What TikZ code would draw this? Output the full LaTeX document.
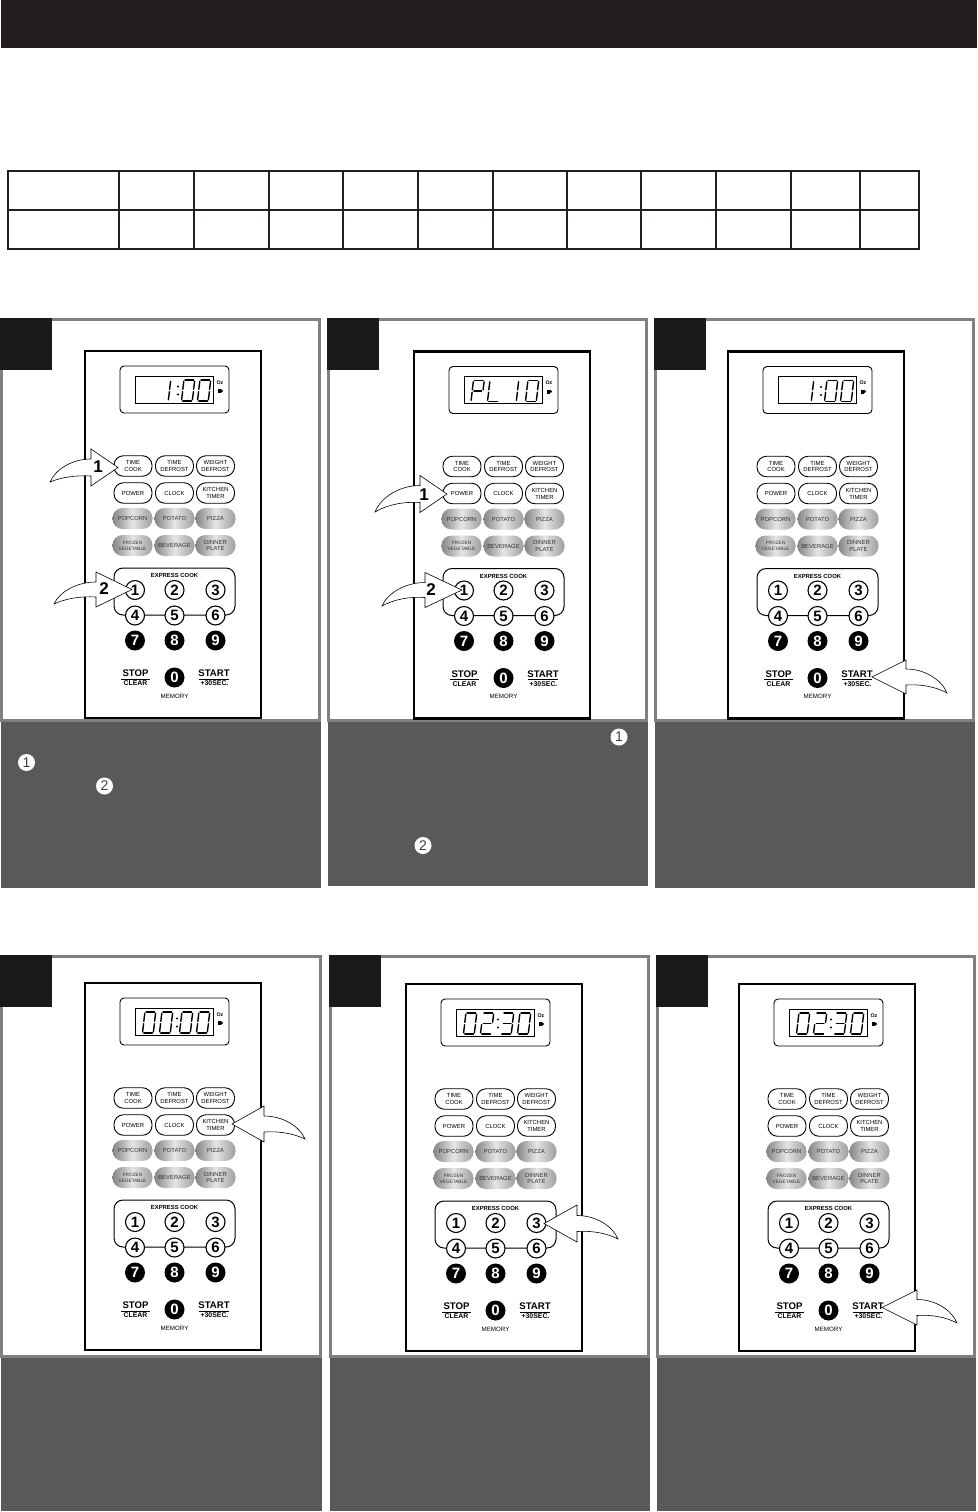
\documentclass[tikz,border=0pt]{standalone}
\usepackage{fontspec}
\setmainfont{Liberation Sans}
\definecolor{barblack}{HTML}{231F20}
\definecolor{sqblack}{HTML}{1A1A1A}
\definecolor{frameg}{HTML}{808080}
\definecolor{textbox}{HTML}{58595B}
\tikzset{
  btn/.style={draw=black,line width=0.9pt,fill=white,rounded corners=9.5pt,minimum width=38pt,minimum height=20.5pt,inner sep=0pt,align=center,font=\fontsize{5.9}{6.9}\selectfont},
  gbtn/.style={rounded corners=10pt,minimum width=40pt,minimum height=21pt,inner sep=0pt,align=center,font=\fontsize{5.9}{6.9}\selectfont,left color=black!48,right color=black!38,middle color=black!10,text=black!80},
  numw/.style={circle,draw=black,line width=1.1pt,fill=white,minimum size=19pt,inner sep=0pt,font=\fontsize{15}{15}\bfseries\selectfont},
  numb/.style={circle,fill=black,minimum size=20pt,inner sep=0pt,text=white,font=\fontsize{15}{15}\bfseries\selectfont},
  seg/.style={line width=1.4pt,line cap=round,black},
  lbl/.style={inner sep=0pt,font=\fontsize{6.2}{7}\selectfont},
  blk/.style={fill=white,draw=black,line width=0.6pt,line join=miter},
  txtnum/.style={circle,fill=white,minimum size=17pt,inner sep=0pt,text=textbox!70!black,font=\fontsize{14}{14}\selectfont},
  arrnum/.style={inner sep=0pt,font=\fontsize{17}{17}\bfseries\selectfont}
}
% seven-segment parts, digit centred on origin
\newcommand{\SgA}{\draw[seg] (-3.0,-10.5)--(5.6,-10.5);}
\newcommand{\SgB}{\draw[seg] (6.6,-9.3)--(5.6,-1.2);}
\newcommand{\SgC}{\draw[seg] (5.4,1.2)--(4.4,9.3);}
\newcommand{\SgD}{\draw[seg] (-5.2,10.5)--(3.4,10.5);}
\newcommand{\SgE}{\draw[seg] (-6.4,9.3)--(-5.4,1.2);}
\newcommand{\SgF}{\draw[seg] (-5.2,-1.2)--(-4.2,-9.3);}
\newcommand{\SgG}{\draw[seg] (-3.6,0)--(4.0,0);}
\newcommand{\DgZero}{\SgA\SgB\SgC\SgD\SgE\SgF}
\newcommand{\DgOne}{\SgB\SgC}
\newcommand{\DgTwo}{\SgA\SgB\SgG\SgE\SgD}
\newcommand{\DgThree}{\SgA\SgB\SgG\SgC\SgD}
\newcommand{\DgP}{\SgA\SgB\SgG\SgE\SgF}
\newcommand{\DgL}{\SgD\SgE\SgF}
\newcommand{\DG}[2]{\begin{scope}[shift={(#1,39.5)}]#2\end{scope}}
\newcommand{\CLN}[1]{\fill (#1,35.5) circle (1.2pt); \fill (#1,43.5) circle (1.2pt);}
% panel: frame, black tab, text box
\newcommand{\panelbox}[6]{% x1,y1,x2,y2,text bottom,text left
  \fill[textbox] (#6,#4+2) rectangle (#3,#5);
  \draw[frameg,line width=3pt] (#1+1.5,#4) -- (#1+1.5,#2+1.5) -- (#3-1.5,#2+1.5) -- (#3-1.5,#4);
  \draw[frameg,line width=3pt] (#1,#4+0.5) -- (#3,#4+0.5);
  \fill[sqblack] (#1,#2) rectangle (#1+52,#2+52);
}
% microwave control panel
\newcommand{\mw}[4]{%
 \begin{scope}[shift={(#2,#3)}]
  \draw[black,line width=2.2pt,fill=white] (0,0) rectangle (176,367);
  \draw[black,line width=0.9pt,rounded corners=4pt] (35,15) rectangle (144,62);
  \draw[black,line width=1pt] (50,25) rectangle (128,52);
  #4
  \node[inner sep=0pt,font=\fontsize{5.2}{5.2}\bfseries\selectfont] (#1-oz) at (135,31.5) {Oz};
  \fill (132.5,38) rectangle (136,42);
  \fill (136.5,40) circle (1.6pt);
  \node[btn] (#1-b1) at (48,115) {TIME\\COOK};
  \node[btn] (#1-b2) at (89.5,115) {TIME\\DEFROST};
  \node[btn] (#1-b3) at (130.5,115) {WEIGHT\\DEFROST};
  \node[btn] (#1-b4) at (48,142) {POWER};
  \node[btn] (#1-b5) at (89.5,142) {CLOCK};
  \node[btn] (#1-b6) at (130.5,142) {KITCHEN\\TIMER};
  \node[gbtn] (#1-g1) at (47.5,167.5) {POPCORN};
  \node[gbtn] (#1-g2) at (89.5,167.5) {POTATO};
  \node[gbtn] (#1-g3) at (130.5,167.5) {PIZZA};
  \node[gbtn,font=\fontsize{4.7}{6.2}\selectfont] (#1-g4) at (47.5,194.5) {FROZEN\\VEGETABLE};
  \node[gbtn] (#1-g5) at (89.5,194.5) {BEVERAGE};
  \node[gbtn] (#1-g6) at (130.5,194.5) {DINNER\\PLATE};
  \draw[black,line width=1pt,rounded corners=9pt] (29,217) rectangle (150,264);
  \node[lbl,font=\fontsize{5.9}{6}\bfseries\selectfont] (#1-ex) at (89.5,224.5) {EXPRESS COOK};
  \node[numw] (#1-n1) at (50,239) {1};
  \node[numw] (#1-n2) at (89.5,239) {2};
  \node[numw] (#1-n3) at (130.5,239) {3};
  \node[numw] (#1-n4) at (50,264.5) {4};
  \node[numw] (#1-n5) at (89.5,264.5) {5};
  \node[numw] (#1-n6) at (130.5,264.5) {6};
  \node[numb] (#1-n7) at (50,289.5) {7};
  \node[numb] (#1-n8) at (89.5,289.5) {8};
  \node[numb] (#1-n9) at (130.5,289.5) {9};
  \node[numb] (#1-n0) at (89.5,326.5) {0};
  \node[inner sep=0pt,font=\fontsize{9.6}{11}\bfseries\selectfont] (#1-stop) at (50.5,322.5) {STOP};
  \node[inner sep=0pt,font=\fontsize{6.9}{8}\bfseries\selectfont] (#1-clear) at (50.5,332.5) {CLEAR};
  \draw[black,line width=0.9pt] (36,328) -- (65,328);
  \node[inner sep=0pt,font=\fontsize{9.6}{11}\bfseries\selectfont] (#1-start) at (129,322.5) {START};
  \node[inner sep=0pt,font=\fontsize{6.9}{8}\bfseries\selectfont] (#1-sec) at (129.5,332.5) {+30SEC.};
  \draw[black,line width=0.9pt] (114,328) -- (144,328);
  \node[lbl] (#1-mem) at (89.5,345) {MEMORY};
 \end{scope}}
% block arrow with curved tail: tipx,tipy,basex,half head,shaft half,tailx,taily
\newcommand{\blockarrow}[7]{%
  \pgfmathsetmacro{\dxa}{#3-#6}
  \pgfmathsetmacro{\Tca}{#6+.13*\dxa}
  \pgfmathsetmacro{\Tcb}{#6+.54*\dxa}
  \pgfmathsetmacro{\Bca}{#6+.65*\dxa}
  \pgfmathsetmacro{\Bcb}{#6+.28*\dxa}
  \pgfmathsetmacro{\Sta}{#2-#5}
  \pgfmathsetmacro{\Sba}{#2+#5}
  \pgfmathsetmacro{\Tya}{#7+.55*(\Sta-#7)}
  \pgfmathsetmacro{\Byb}{\Sba+.2*(#7-\Sba)}
  \path[blk,draw] (#1,#2) -- (#3,#2-#4) -- (#3,\Sta) .. controls (\Tcb,\Sta) and (\Tca,\Tya) .. (#6,#7) .. controls (\Bcb,\Byb) and (\Bca,\Sba-1) .. (#3,\Sba) -- (#3,#2+#4) -- cycle;
}
\begin{document}
\begin{tikzpicture}[x=1pt,y=-1pt]
\useasboundingbox (0,0) rectangle (977,1512);
\fill[white] (0,0) rectangle (977,1512);
\fill[barblack] (1,0) rectangle (977,48);
% table
\draw[barblack,line width=2.4pt] (8,171) rectangle (919,249);
\draw[barblack,line width=2.4pt] (8,210) -- (919,210);
\draw[barblack,line width=2.2pt] (119,171) -- (119,249);
\foreach \tx in {194,269,343,418,493,567,641,716,791,860}{\draw[barblack,line width=1.6pt] (\tx,171) -- (\tx,249);}
% top row
\panelbox{0}{318}{321}{720}{888}{1}
\panelbox{327}{318}{648}{720}{886}{328}
\panelbox{654}{318}{975}{720}{888}{655}
% bottom row
\panelbox{0}{955}{322}{1356}{1511}{1}
\panelbox{329}{955}{650}{1356}{1511}{330}
\panelbox{656}{955}{975.5}{1356}{1511}{657}
\mw{a}{85}{351}{\DG{79}{\DgOne}\CLN{93}\DG{103}{\DgZero}\DG{119}{\DgZero}}
\mw{b}{414}{351.5}{\DG{63.5}{\DgP}\DG{80}{\DgL}\DG{98}{\DgOne}\DG{118}{\DgZero}}
\mw{c}{728}{351.5}{\DG{79}{\DgOne}\CLN{93}\DG{103}{\DgZero}\DG{119}{\DgZero}}
\mw{d}{85}{983}{\DG{64}{\DgZero}\DG{81}{\DgZero}\CLN{92}\DG{101}{\DgZero}\DG{118}{\DgZero}}
\mw{e}{406}{984}{\DG{64}{\DgZero}\DG{81}{\DgTwo}\CLN{92}\DG{101}{\DgThree}\DG{118}{\DgZero}}
\mw{f}{739}{984}{\DG{64}{\DgZero}\DG{81}{\DgTwo}\CLN{92}\DG{101}{\DgThree}\DG{118}{\DgZero}}
% arrows
\blockarrow{118}{467.5}{91}{18.5}{8.5}{50}{482}
\node[arrnum] (a-l1) at (98,467) {1};
\blockarrow{132}{589.5}{96}{17.5}{7.5}{54}{604}
\node[arrnum] (a-l2) at (104,589) {2};
\blockarrow{447}{494}{420}{18.5}{8.5}{375}{512}
\node[arrnum] (b-l1) at (424,495) {1};
\blockarrow{462}{590}{425}{17.5}{7.5}{382}{606}
\node[arrnum] (b-l2) at (431,590) {2};
\blockarrow{872}{677}{906}{17}{8}{947}{693}
\blockarrow{232}{1124}{264}{18}{8}{305}{1139}
\blockarrow{544}{1223.5}{577}{18.5}{8}{618}{1239}
\blockarrow{882}{1307.5}{917}{17.5}{8}{957}{1323}
% numbers in text boxes
\node[txtnum] (t-a1) at (26.5,762.5) {1};
\node[txtnum] (t-a2) at (104.5,786) {2};
\node[txtnum] (t-b1) at (619,737) {1};
\node[txtnum] (t-b2) at (423,845.5) {2};
\end{tikzpicture}
\end{document}
